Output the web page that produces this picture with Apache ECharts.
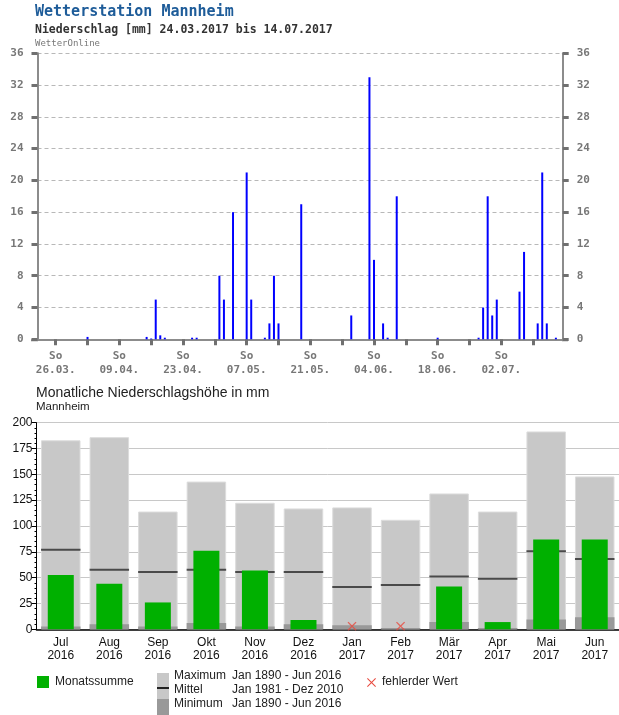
<!DOCTYPE html>
<html>
<head>
<meta charset="utf-8">
<script src="https://cdn.jsdelivr.net/npm/echarts@6/dist/echarts.min.js"></script>
<style>html,body{margin:0;padding:0;background:#fff}#c{width:619px;height:715px}</style>
</head>
<body>
<div id="c"></div>
<script>
// ---------- Top chart data (daily precipitation, mm) ----------
const startDate = '24.03.';            // day index 0 = 24.03.2017
const rainDates = ['02.04.','15.04.','16.04.','17.04.','18.04.','19.04.','25.04.','26.04.',
  '01.05.','02.05.','04.05.','07.05.','08.05.','11.05.','12.05.','13.05.','14.05.','19.05.','30.05.',
  '03.06.','04.06.','06.06.','07.06.','09.06.','18.06.','27.06.','28.06.','29.06.','30.06.',
  '01.07.','06.07.','07.07.','10.07.','11.07.','12.07.','14.07.'];
const rainMm = [0.3,0.3,0.1,5,0.5,0.2,0.2,0.2,
  8,5,16,21,5,0.2,2,8,2,17,3,
  33,10,2,0.2,18,0.2,0.2,4,18,3,5,
  6,11,2,21,2,0.2];
const weekTicks = ['26.03.','02.04.','09.04.','16.04.','23.04.','30.04.','07.05.','14.05.','21.05.',
  '28.05.','04.06.','11.06.','18.06.','25.06.','02.07.','09.07.'];
const labelTicks = ['26.03.','09.04.','23.04.','07.05.','21.05.','04.06.','18.06.','02.07.'];

// ---------- Bottom chart data (monthly precipitation, mm) ----------
const months = ['Jul','Aug','Sep','Okt','Nov','Dez','Jan','Feb','Mär','Apr','Mai','Jun'];
const years  = ['2016','2016','2016','2016','2016','2016','2017','2017','2017','2017','2017','2017'];
const monthSum = [52.5,44,26,76,57,9,null,null,41.5,7,87,87];
const maxVals  = [183,186,114,143,122.5,117,118,106,131.5,114,191.5,148];
const meanVals = [77,57.7,55.5,57.7,55.5,55.5,41,43,51,49,75.5,68];
const minVals  = [2.6,4.8,2.6,6.1,2.6,4.8,4,1.3,7,1.3,9.4,11.6];
const missingMonths = ['Jan','Feb'];
const missingMarkLevel = 3;

// ---------- helpers ----------
function toUTC(s){ const p=s.split('.'); return Date.UTC(2017, +p[1]-1, +p[0]); }
const t0 = toUTC(startDate);
function dayIndex(s){ return Math.round((toUTC(s)-t0)/864e5); }
function dayLabel(i){
  const d = new Date(t0 + Math.round(i)*864e5);
  const dd = String(d.getUTCDate()).padStart(2,'0'), mm = String(d.getUTCMonth()+1).padStart(2,'0');
  return dd+'.'+mm+'.';
}

const MONO = '"DejaVu Sans Mono", "Liberation Mono", monospace';
const SANS = '"Liberation Sans", Arial, sans-serif';
const C_GREEN = '#00b000', C_MAX = '#c8c8c8', C_MIN = '#999999';

const chart = echarts.init(document.getElementById('c'), null, {renderer:'canvas'});

const xMark = 'path://M0,1 L1,0 L5,4 L9,0 L10,1 L6,5 L10,9 L9,10 L5,6 L1,10 L0,9 L4,5 Z';
function xPoly(cx, cy, r){
  const a = 0.75;
  return [[cx-r,cy-r+a],[cx-r+a,cy-r],[cx,cy-a],[cx+r-a,cy-r],[cx+r,cy-r+a],[cx+a,cy],
          [cx+r,cy+r-a],[cx+r-a,cy+r],[cx,cy+a],[cx-r+a,cy+r],[cx-r,cy+r-a],[cx-a,cy]];
}

const option = {
  animation:false,
  backgroundColor:'#ffffff',
  grid:[
    {left:37.5, top:53.3, width:525.2, height:286},
    {left:36.5, top:422.7, width:582.5, height:206.6}
  ],
  xAxis:[
    {gridIndex:0, type:'value', min:-2, max:113.5,
      axisLine:{show:true, onZero:false, lineStyle:{color:'#8c8c8c', width:2}},
      axisTick:{show:true, customValues: weekTicks.map(dayIndex), length:6, lineStyle:{color:'#707070', width:3}},
      axisLabel:{show:true, customValues: labelTicks.map(dayIndex), formatter:v=>'So\n'+dayLabel(v),
        fontFamily:MONO, fontSize:11, fontWeight:'bold', color:'#777', lineHeight:14, margin:10},
      splitLine:{show:false}},
    {gridIndex:1, type:'category', data:months,
      axisLine:{show:true, onZero:false, lineStyle:{color:'#000', width:1.5}},
      axisTick:{show:false},
      axisLabel:{formatter:(v,i)=>v+'\n'+years[i], fontFamily:SANS, fontSize:12, color:'#111', lineHeight:13, margin:7, interval:0},
      splitLine:{show:false}, z:0},
    {gridIndex:1, type:'category', data:months, show:false}
  ],
  yAxis:[
    {gridIndex:0, type:'value', min:0, max:36, interval:4, position:'left',
      axisLine:{show:true, onZero:false, lineStyle:{color:'#8c8c8c', width:2}},
      axisTick:{show:true, length:6, lineStyle:{color:'#707070', width:3}},
      axisLabel:{fontFamily:MONO, fontSize:11, fontWeight:'bold', color:'#777', margin:14},
      splitLine:{show:true, lineStyle:{color:'#b8b8b8', width:1, type:[4,3]}}},
    {gridIndex:0, type:'value', min:0, max:36, interval:4, position:'right',
      axisLine:{show:true, onZero:false, lineStyle:{color:'#8c8c8c', width:2}},
      axisTick:{show:true, length:6, lineStyle:{color:'#707070', width:3}},
      axisLabel:{fontFamily:MONO, fontSize:11, fontWeight:'bold', color:'#777', margin:14},
      splitLine:{show:false}},
    {gridIndex:1, type:'value', min:0, max:200, interval:25,
      axisLine:{show:true, onZero:false, lineStyle:{color:'#000', width:1}},
      axisTick:{show:true, length:5, lineStyle:{color:'#000'}},
      minorTick:{show:true, splitNumber:5, length:2, lineStyle:{color:'#000'}},
      axisLabel:{fontFamily:SANS, fontSize:12, color:'#111', margin:4},
      splitLine:{show:true, lineStyle:{color:'#c8c8c8', width:1}}}
  ],
  series:[
    {type:'bar', xAxisIndex:0, yAxisIndex:0, barWidth:2,
      data: rainDates.map((d,i)=>[dayIndex(d), rainMm[i]]),
      itemStyle:{color:'#0000ff'}},
    {type:'bar', xAxisIndex:2, yAxisIndex:2, barWidth:39.5, barGap:'-100%', data:maxVals,
      itemStyle:{color:C_MAX, borderColor:'#dcdcdc', borderWidth:1}},
    {type:'bar', xAxisIndex:2, yAxisIndex:2, barWidth:39.5, barGap:'-100%', data:minVals,
      itemStyle:{color:C_MIN}},
    {type:'scatter', xAxisIndex:1, yAxisIndex:2, symbol:'rect', symbolSize:[39.5,2], data:meanVals,
      itemStyle:{color:'#2a2a2a'}, z:3},
    {type:'bar', xAxisIndex:1, yAxisIndex:2, barWidth:26, data:monthSum,
      itemStyle:{color:C_GREEN}, z:4},
    {type:'scatter', xAxisIndex:1, yAxisIndex:2, symbol:xMark, symbolSize:9,
      data: months.map(m=>missingMonths.includes(m)?missingMarkLevel:null),
      itemStyle:{color:'#e84a3f'}, z:5}
  ],
  graphic:[
    {type:'text', x:35, y:5, style:{text:'Wetterstation Mannheim', font:'bold 15px '+MONO, fill:'#1e5c99'}},
    {type:'text', x:35, y:24, style:{text:'Niederschlag [mm] 24.03.2017 bis 14.07.2017', font:'bold 11.5px '+MONO, fill:'#333'}},
    {type:'text', x:35, y:39.5, style:{text:'WetterOnline', font:'9px '+MONO, fill:'#777'}},
    {type:'line', shape:{x1:31, y1:340.3, x2:38, y2:340.3}, style:{stroke:'#8c8c8c', lineWidth:2}},
    {type:'line', shape:{x1:562, y1:340.3, x2:568, y2:340.3}, style:{stroke:'#8c8c8c', lineWidth:2}},

    {type:'text', x:36, y:386, style:{text:'Monatliche Niederschlagshöhe in mm', font:'14px '+SANS, fill:'#222'}},
    {type:'text', x:36, y:401, style:{text:'Mannheim', font:'11.5px '+SANS, fill:'#222'}},

    {type:'rect', shape:{x:37, y:676, width:12, height:12}, style:{fill:C_GREEN}},
    {type:'text', x:55, y:676, style:{text:'Monatssumme', font:'12px '+SANS, fill:'#222'}},
    {type:'rect', shape:{x:157, y:673, width:12, height:26}, style:{fill:C_MAX}},
    {type:'rect', shape:{x:157, y:699, width:12, height:16}, style:{fill:C_MIN}},
    {type:'line', shape:{x1:157, y1:688, x2:169, y2:688}, style:{stroke:'#222', lineWidth:2}},
    {type:'text', x:174, y:670, style:{text:'Maximum', font:'12px '+SANS, fill:'#222'}},
    {type:'text', x:174, y:684, style:{text:'Mittel', font:'12px '+SANS, fill:'#222'}},
    {type:'text', x:174, y:698, style:{text:'Minimum', font:'12px '+SANS, fill:'#222'}},
    {type:'text', x:232, y:670, style:{text:'Jan 1890 - Jun 2016', font:'12px '+SANS, fill:'#222'}},
    {type:'text', x:232, y:684, style:{text:'Jan 1981 - Dez 2010', font:'12px '+SANS, fill:'#222'}},
    {type:'text', x:232, y:698, style:{text:'Jan 1890 - Jun 2016', font:'12px '+SANS, fill:'#222'}},
    {type:'polygon', shape:{points:xPoly(371.5, 682.5, 4.5)}, style:{fill:'#e84a3f'}},
    {type:'text', x:382, y:676, style:{text:'fehlerder Wert', font:'12px '+SANS, fill:'#222'}}
  ]
};
chart.setOption(option);
</script>
</body>
</html>
